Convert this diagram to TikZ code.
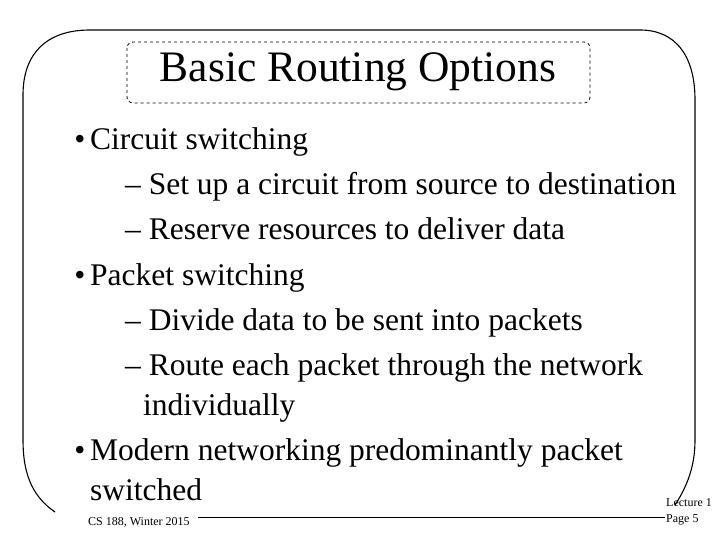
\documentclass[tikz,border=0pt]{standalone}
\usepackage{fontspec}
\setmainfont{Liberation Serif}
\begin{document}
\begin{tikzpicture}[x=1pt,y=-1pt,
  body/.style={anchor=base west,inner sep=0pt,font=\fontsize{31.5}{33}\selectfont},
  bul/.style={anchor=base,inner sep=0pt,font=\fontsize{31.5}{33}\selectfont},
  small/.style={anchor=base west,inner sep=0pt,font=\fontsize{12}{13}\selectfont},
  frame/.style={line width=1.1pt}]
\useasboundingbox (0,0) rectangle (720,540);
\draw[frame] (55,512) .. controls (30,495) and (23,470) .. (23,440) -- (23,95) .. controls (23,55) and (45,30) .. (90,30) -- (640,30) .. controls (675,30) and (695,55) .. (695,100) -- (695,440) .. controls (695,465) and (688,485) .. (675,505);
\coordinate (l1) at (198,517);
\coordinate (l2) at (665,517);
\draw[line width=0.8pt] (l1) -- (l2);
\draw[dashed,rounded corners=6pt,line width=0.8pt] (127,42) rectangle (590,103);
\node[anchor=center,font=\fontsize{43.5}{45}\selectfont,inner sep=0pt] (t) at (358,72) {Basic Routing Options};
\node[bul] (a0) at (80,150) {\textbullet};
\node[body] (a) at (90,150) {Circuit switching};
\node[body] (b) at (125,195) {– Set up a circuit from source to destination};
\node[body] (c) at (125,240) {– Reserve resources to deliver data};
\node[bul] (d0) at (80,285) {\textbullet};
\node[body] (d) at (90,285) {Packet switching};
\node[body] (e) at (125,330) {– Divide data to be sent into packets};
\node[body] (f) at (125,375) {– Route each packet through the network};
\node[body] (g) at (143,415) {individually};
\node[bul] (h0) at (80,460) {\textbullet};
\node[body] (h) at (90,460) {Modern networking predominantly packet};
\node[body] (i) at (90,500) {switched};
\node[small] (j) at (88,525) {CS 188, Winter 2015};
\node[small] (k) at (666,506) {Lecture 1};
\node[small] (m) at (666,522) {Page 5};
\end{tikzpicture}
\end{document}
